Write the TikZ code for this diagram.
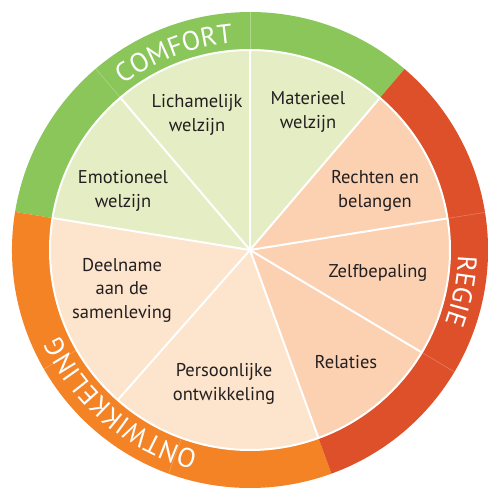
\documentclass[tikz,border=0pt]{standalone}
\usepackage{fontspec}
\setmainfont{PT Sans}
\usepackage{xcolor}
\usetikzlibrary{decorations.text}
\definecolor{comfortgroen}{RGB}{139,198,91}
\definecolor{regierood}{RGB}{221,80,41}
\definecolor{ontworanje}{RGB}{243,131,36}
\definecolor{lichtgroen}{RGB}{229,237,196}
\definecolor{perzik}{RGB}{251,209,178}
\definecolor{lichtoranje}{RGB}{253,228,204}
\definecolor{tekst}{RGB}{35,31,32}
\newcommand{\ringfont}{\fontsize{27}{27}\selectfont}

\begin{document}
\begin{tikzpicture}[x=1pt,y=1pt,
  veld/.style={align=center,text=tekst,font=\fontsize{18.5}{23.5}\selectfont},
  scheiding/.style={draw=white,line width=2pt},
  ringtekst/.style={decorate,decoration={text along path,text align=center,text color=white,text={|\ringfont|#1}}}]
\useasboundingbox (0,0) rectangle (488,488);
\coordinate (c) at (250,238);
\fill[comfortgroen] (c) -- ++(49.5:238) arc[start angle=49.5,end angle=170.8,radius=238] -- cycle;
\fill[ontworanje] (c) -- ++(170.8:238) arc[start angle=170.8,end angle=290,radius=238] -- cycle;
\fill[regierood] (c) -- ++(290:238) arc[start angle=290,end angle=409.5,radius=238] -- cycle;
\foreach \a in {90,130.4,9.1,329.2,210,250}
  \draw[white,opacity=.3,line width=.5pt] ([shift={(\a:200)}]c) -- ([shift={(\a:238)}]c);
\foreach \a/\b/\k in {9.1/49.5/perzik,49.5/90/lichtgroen,90/130.4/lichtgroen,130.4/170.8/lichtgroen,
  170.8/228.6/lichtoranje,228.6/290/lichtoranje,290/329.2/perzik,329.2/369.1/perzik}
  \fill[\k] (c) -- ++(\a:200) arc[start angle=\a,end angle=\b,radius=200] -- cycle;
\foreach \a in {9.1,49.5,90,130.4,170.8,228.6,290,329.2}
  \draw[scheiding] (c) -- ++(\a:200);
\draw[scheiding] (c) circle[radius=200];
\path[ringtekst=COMFORT] ([shift={(150:208)}]c) arc[start angle=150,end angle=72,radius=208];
\path[ringtekst=REGIE] ([shift={(25:208)}]c) arc[start angle=25,end angle=-47,radius=208];
\path[ringtekst=ONTWIKKELING] ([shift={(285:208)}]c) arc[start angle=285,end angle=175,radius=208];
\node[veld] (lich) at (197,373) {Lichamelijk\\welzijn};
\node[veld] (mat) at (308,376) {Materieel\\welzijn};
\node[veld] (emo) at (123,297) {Emotioneel\\welzijn};
\node[veld] (recht) at (375,297) {Rechten en\\belangen};
\node[veld] (zelf) at (378,215) {Zelfbepaling};
\node[veld] (rel) at (346,126) {Relaties};
\node[veld] (pers) at (224,104) {Persoonlijke\\ontwikkeling};
\node[veld] (deel) at (122,198) {Deelname\\aan de\\samenleving};
\end{tikzpicture}
\end{document}
